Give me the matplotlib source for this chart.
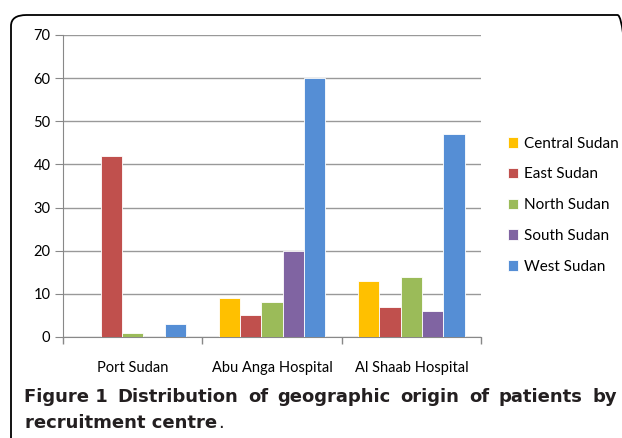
import matplotlib.pyplot as plt
import numpy as np
from matplotlib.patches import FancyBboxPatch

centres = ['Port Sudan', 'Abu Anga Hospital', 'Al Shaab Hospital']
regions = ['Central Sudan', 'East Sudan', 'North Sudan', 'South Sudan', 'West Sudan']
central = [0, 9, 13]
east = [42, 5, 7]
north = [1, 8, 14]
south = [0, 20, 6]
west = [3, 60, 47]
colors = ['#FFC000', '#C0504D', '#9BBB59', '#8064A2', '#558ED5']

caption_words = ['Figure 1', 'Distribution', 'of', 'geographic', 'origin', 'of', 'patients', 'by']

plt.rcParams['font.family'] = ['Lato', 'DejaVu Sans']

fig = plt.figure(figsize=(6.22, 4.38), dpi=100)
ax = fig.add_axes([63/622, 1-337/438, 418/622, 302/438])

x = np.arange(len(centres))
w = 0.153
series = [central, east, north, south, west]
for i, (vals, name, c) in enumerate(zip(series, regions, colors)):
    ax.bar(x + (i-2)*w, vals, w, color=c, edgecolor='white', linewidth=0.6, label=name, zorder=3)

ax.set_xlim(-0.5, 2.5)
ax.set_ylim(0, 70)
ax.set_yticks(range(0, 71, 10))
ax.set_xticks(x)
ax.set_xticklabels(centres, fontsize=10.5)
ax.set_xticks([-0.5, 0.5, 1.5, 2.5], minor=True)
ax.tick_params(axis='x', which='major', length=0, pad=17)
ax.tick_params(axis='x', which='minor', length=5, color='#888888', width=1)
ax.tick_params(axis='y', length=6, color='#888888', labelsize=10.5, pad=3)
ax.grid(axis='y', color='#999999', linewidth=1, zorder=0)
for s in ['top', 'right']:
    ax.spines[s].set_visible(False)
ax.spines['left'].set_color('#888888')
ax.spines['bottom'].set_color('#888888')

ax.legend(loc='upper left', bbox_to_anchor=(500/622, 1-129/438), bbox_transform=fig.transFigure,
          frameon=False, fontsize=11, handlelength=0.7, handleheight=0.7,
          handletextpad=0.4, labelspacing=1.1, borderpad=0)

box = FancyBboxPatch((11/622, -0.1), 1.0, 1-15/438+0.1, boxstyle='round,pad=0,rounding_size=0.025',
                     transform=fig.transFigure, facecolor='none', edgecolor='black',
                     linewidth=1.3, clip_on=False)
fig.patches.append(box)

# caption, first line justified between x=24 and x=617 px
cap_font = ['DejaVu Sans']
cap_col = '#231f20'
y1 = 1 - 397/438
y2 = 1 - 423/438
texts = []
for k, word in enumerate(caption_words):
    t = fig.text(0, y1, word, fontsize=13, family=cap_font, fontweight='bold',
                 va='center', ha='left', color=cap_col)
    texts.append(t)
line2 = fig.text(25/622, y2, 'recruitment centre', fontsize=13, family=cap_font,
                 fontweight='bold', va='center', ha='left', color=cap_col)
fig.canvas.draw()
r = fig.canvas.get_renderer()
widths = [t.get_window_extent(r).width for t in texts]
gap = (593 - sum(widths)) / (len(texts) - 1)
pos = 24
for t, wd in zip(texts, widths):
    t.set_x(pos/622)
    pos += wd + gap
end2 = line2.get_window_extent(r).x1
fig.text((end2 + 0.5)/622, y2, '.', fontsize=13, family=cap_font,
         va='center', ha='left', color=cap_col)

fig.savefig('out.png', dpi=100)
